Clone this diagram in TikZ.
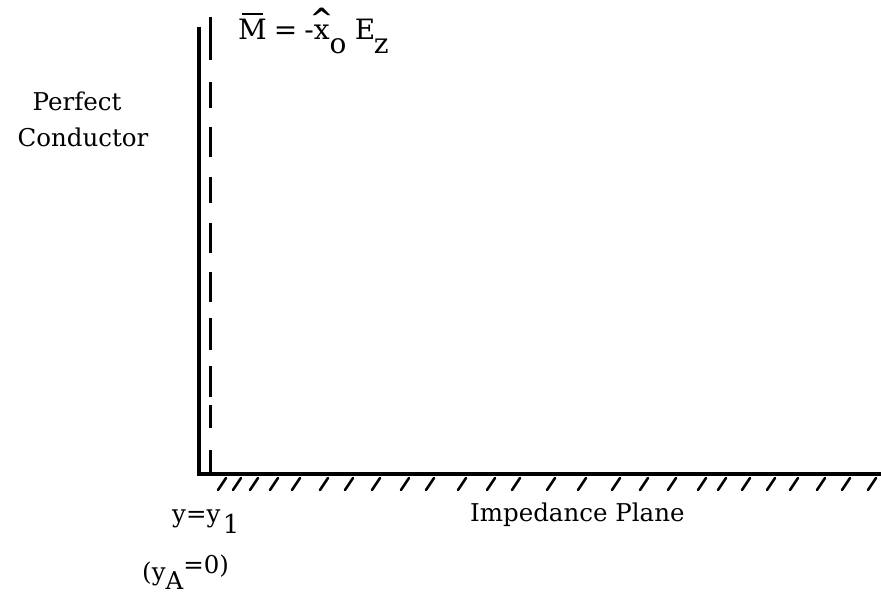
\documentclass[tikz,border=0pt]{standalone}
\usepackage{fontspec}
\setmainfont{DejaVu Serif}
\newcommand{\hatx}{\ooalign{x\cr\hidewidth\raisebox{0.42em}{\bfseries\textasciicircum}\hidewidth\cr}}
\newcommand{\barM}{\ooalign{M\cr\hidewidth\rule[0.9em]{0.78em}{0.06em}\hidewidth\cr}}
\begin{document}
\begin{tikzpicture}[x=1pt,y=-1pt,
  wall/.style={line width=3.6pt},
  sheet/.style={line width=3pt},
  hatch/.style={line width=2.6pt,line cap=round},
  lbl/.style={inner sep=0pt,font=\fontsize{24.5}{29}\selectfont},
  eqlbl/.style={inner sep=0pt,font=\fontsize{28}{33}\selectfont}]
\useasboundingbox (0,0) rectangle (881,599);
% conductor and impedance plane
\coordinate (top) at (199,27);
\coordinate (corner) at (199,474);
\coordinate (right) at (881,474);
\draw[wall,line join=miter] (top) -- (corner) -- (right);
% magnetic current sheet (dashed)
\foreach \a/\b in {17/60,82/108,127/157,177/203,223/253,272/302,318/350,366/397,405/428,450/474}{
  \draw[sheet] (210,\a) -- (210,\b);
}
% hatching
\foreach \x in {218,233,250,270,292,320,345,372,401,426,458,487,512,547,578,612,640,668,698,718,742,767,790,817,842,868}{
  \draw[hatch] (\x,490) -- (\x+8,478);
}
% labels
\node[lbl,anchor=base] (perf) at (77,111) {Perfect};
\node[lbl,anchor=base] (cond) at (83,147) {Conductor};
\node[eqlbl,anchor=base west] (eq) at (238,40)
  {\barM\hspace{0.25em}=\hspace{0.25em}-\hatx\raisebox{-0.5em}{o}\hspace{0.3em}E\raisebox{-0.5em}{\hspace{-0.05em}z}};
\node[lbl,anchor=base west] (ylab) at (172,522) {y=y\hspace{0.1em}\raisebox{-0.45em}{\fontsize{26}{28}\selectfont 1}};
\node[lbl,anchor=base west] (yalab) at (142,580) {(y\raisebox{-0.4em}{A}\raisebox{0.25em}{=0)}};
\node[lbl,anchor=base west] (imp) at (470,521) {Impedance Plane};
\end{tikzpicture}
\end{document}
